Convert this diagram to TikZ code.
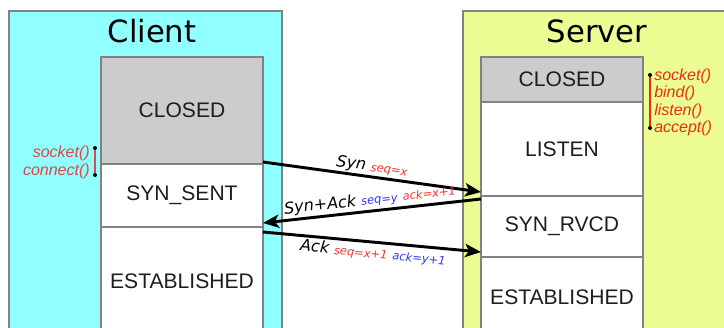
\documentclass[tikz,border=0pt]{standalone}
\usepackage{fontspec}
\setmainfont{Liberation Sans}
\newfontfamily\djv{DejaVu Sans}
\usetikzlibrary{arrows.meta,calc}
\definecolor{cyanpanel}{RGB}{143,255,255}
\definecolor{yellowpanel}{RGB}{236,252,146}
\definecolor{closedgray}{RGB}{204,204,204}
\definecolor{edgegray}{RGB}{130,130,130}
\definecolor{labred}{RGB}{240,50,50}
\definecolor{labblue}{RGB}{50,50,235}
\definecolor{cliannot}{RGB}{225,70,70}
\definecolor{srvannot}{RGB}{235,45,20}
\definecolor{statetext}{RGB}{30,30,30}
\tikzset{
  panel/.style={draw=edgegray, line width=0.8pt, anchor=north west, outer sep=0pt, inner sep=0pt},
  statebox/.style={draw=edgegray, line width=0.8pt, fill=white, anchor=north west, outer sep=0pt, inner sep=0pt,
    minimum width=121.5pt, font=\fontsize{15.8}{18}\selectfont, text=statetext},
  closedbox/.style={statebox, fill=closedgray},
  title/.style={font=\djv\fontsize{23}{26}\selectfont, text=black},
  msg/.style={line width=2.2pt, -{Stealth[length=12pt,width=10pt,inset=3pt]}},
  msglabel/.style={inner sep=0pt, font=\djv\itshape\fontsize{12}{14}\selectfont},
  annot/.style={inner sep=0pt, font=\itshape\fontsize{12}{14}\selectfont},
  annotline/.style={line width=1pt},
  dot/.style={circle, fill=black, inner sep=0pt, minimum size=3pt}
}
\newcommand{\sm}{\fontsize{8.6}{10}\selectfont}
\begin{document}
\begin{tikzpicture}[x=0.75pt,y=-0.75pt]
\useasboundingbox (0,0) rectangle (724,328);
\clip (0,0) rectangle (724,328);
\fill[white] (0,0) rectangle (724,328);
% panels
\node[panel, fill=cyanpanel, minimum width=204.75pt, minimum height=246.75pt] (cpanel) at (9,11) {};
\node[panel, fill=yellowpanel, minimum width=207.75pt, minimum height=246.75pt] (spanel) at (463,11) {};
\node[title] (ctitle) at (152,31) {Client};
\node[title] (stitle) at (597,31) {Server};
% client states
\node[closedbox, minimum height=80.25pt] (cclosed) at (101,57) {CLOSED};
\node[statebox, minimum height=47.25pt] (csynsent) at (101,164) {SYN\_SENT};
\node[statebox, minimum height=81.75pt] (cestab) at (101,227) {ESTABLISHED};
% server states
\node[closedbox, minimum height=33.75pt] (sclosed) at (481,57) {CLOSED};
\node[statebox, minimum height=70.5pt] (slisten) at (481,102) {LISTEN};
\node[statebox, minimum height=45.75pt] (ssynrvcd) at (481,196) {SYN\_RVCD};
\node[statebox, minimum height=60pt] (sestab) at (481,257) {ESTABLISHED};
% messages
\draw[msg] ($(csynsent.north east)+(0,-2)$) -- ($(slisten.south west)+(0,-4)$);
\draw[msg] ($(ssynrvcd.north west)+(0,3)$) -- ($(csynsent.south east)+(0,-4)$);
\draw[msg] ($(cestab.north east)+(0,5)$) -- ($(sestab.north west)+(0,-5)$);
\node[msglabel, rotate=-8.1] (synlab) at (372,167) {Syn \textcolor{labred}{\sm seq=x}};
\node[msglabel, rotate=6.5] (synacklab) at (370,200) {Syn+Ack \textcolor{labblue}{\sm seq=y} \textcolor{labred}{\sm ack=x+1}};
\node[msglabel, rotate=-5.5] (acklab) at (373,253) {Ack \textcolor{labred}{\sm seq=x+1} \textcolor{labblue}{\sm ack=y+1}};
% client annotation
\node[dot] (cdA) at (95,148) {};
\node[dot] (cdB) at (95,175) {};
\draw[annotline, cliannot] (cdA) -- (cdB);
\node[annot, text=cliannot, anchor=east] (csock) at (90,153) {socket()};
\node[annot, text=cliannot, anchor=east] (cconn) at (90,171) {connect()};
% server annotation
\node[dot] (sdA) at (650,75) {};
\node[dot] (sdB) at (650,128) {};
\draw[annotline, srvannot] (sdA) -- (sdB);
\node[annot, text=srvannot, anchor=west] (ssock) at (654,76) {socket()};
\node[annot, text=srvannot, anchor=west] (sbind) at (654,93.5) {bind()};
\node[annot, text=srvannot, anchor=west] (slist) at (654,111) {listen()};
\node[annot, text=srvannot, anchor=west] (sacc) at (654,128.5) {accept()};
\end{tikzpicture}
\end{document}
